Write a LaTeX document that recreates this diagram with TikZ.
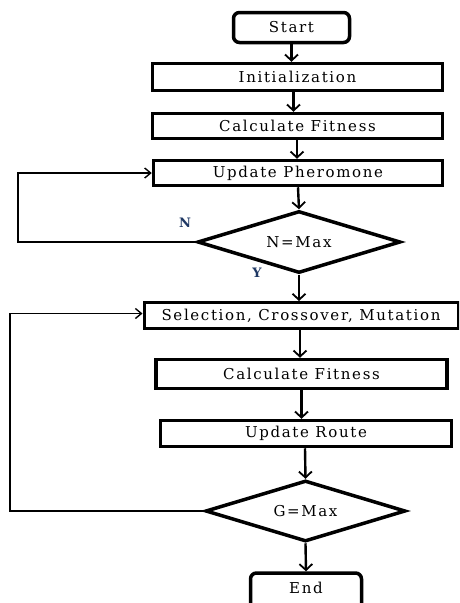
\documentclass[tikz,border=0pt]{standalone}
\usepackage{fontspec}
\setmainfont{DejaVu Serif}[LetterSpace=11]
\usetikzlibrary{shapes.geometric,arrows.meta}
\definecolor{navy}{RGB}{31,56,100}
\begin{document}
\begin{tikzpicture}[x=1pt,y=-1pt,
  every node/.style={font=\fontsize{15}{17}\selectfont, inner sep=0pt},
  box/.style={draw, line width=3.5pt, rectangle},
  term/.style={draw, line width=3.5pt, rectangle, rounded corners=6pt},
  dec/.style={draw, line width=3.5pt, diamond, aspect=3.2},
  arr/.style={line width=2.4pt, -{Straight Barb[length=6pt,width=13pt,line width=1.8pt]}},
  loop/.style={line width=1.6pt, -{Straight Barb[length=6pt,width=10pt,line width=1.4pt]}},
  lab/.style={text=navy, font=\fontsize{13}{15}\selectfont\bfseries}
]
\useasboundingbox (0,0) rectangle (459,603);
\clip (0,0) rectangle (459,603);
\fill[white] (0,0) rectangle (459,603);

\node[term, minimum width=116pt, minimum height=30pt] (start) at (291.5,27.5) {Start};
\node[box, minimum width=290pt, minimum height=27pt] (init) at (297.5,77) {Initialization};
\node[box, minimum width=290pt, minimum height=25pt] (cf1) at (297.5,126) {Calculate Fitness};
\node[box, minimum width=289pt, minimum height=25pt] (up) at (298,173) {Update Pheromone};
\node[dec, minimum width=203pt, minimum height=62pt] (d1) at (299,242) {N=Max};
\node[lab] (nlab) at (185,223) {N};
\node[lab] (ylab) at (257,273) {Y};

\node[box, minimum width=314pt, minimum height=26pt, line width=3pt] (sel) at (301,315.5) {Selection, Crossover, Mutation};
\node[box, minimum width=291pt, minimum height=29pt] (cf2) at (301.5,374) {Calculate Fitness};
\node[box, minimum width=291pt, minimum height=26pt] (ur) at (306,433.5) {Update Route};
\node[dec, minimum width=200pt, minimum height=61pt] (d2) at (305.5,511) {G=Max};
\node[term, minimum width=111pt, minimum height=44pt] (end) at (306,595) {};
\node (endt) at (306,588) {End};

\coordinate (l1) at (18,242);
\coordinate (l2) at (10,511);

\draw[arr] (start.south) -- (start.south |- init.north);
\draw[arr] ([xshift=-4pt]init.south) -- ([xshift=-4pt]init.south |- cf1.north);
\draw[arr] ([xshift=-0.5pt]cf1.south) -- ([xshift=-0.5pt]cf1.south |- up.north);
\draw[arr] (up.south) -- (d1.north);
\draw[loop] (d1.west) -- (l1) |- (up.west);
\draw[arr] (d1.south) -- (d1.south |- sel.north);
\draw[arr] ([xshift=-1pt]sel.south) -- ([xshift=-1pt]sel.south |- cf2.north);
\draw[arr] (cf2.south) -- (cf2.south |- ur.north);
\draw[arr] ([xshift=-1pt]ur.south) -- (d2.north);
\draw[loop] (d2.west) -- (l2) |- ([yshift=2pt]sel.west);
\draw[arr] (d2.south) -- (end.north);
\end{tikzpicture}
\end{document}
